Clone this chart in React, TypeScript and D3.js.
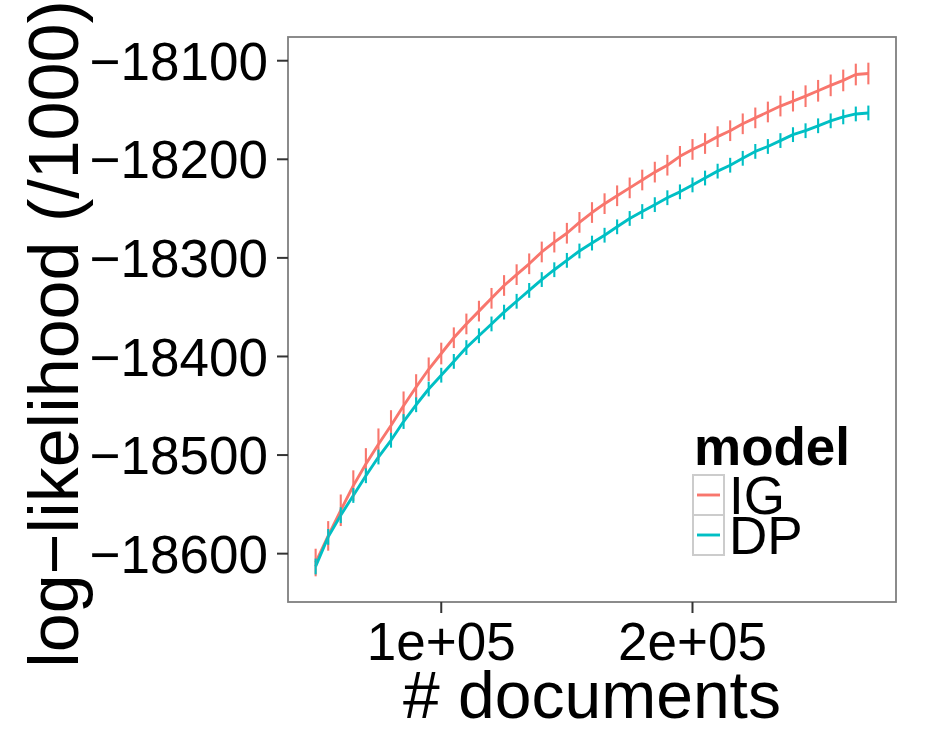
import React from "react";
import * as d3 from "d3";

const docs = [
  50000, 55000, 60000, 65000, 70000, 75000, 80000, 85000, 90000, 95000,
  100000, 105000, 110000, 115000, 120000, 125000, 130000, 135000, 140000, 145000,
  150000, 155000, 160000, 165000, 170000, 175000, 180000, 185000, 190000, 195000,
  200000, 205000, 210000, 215000, 220000, 225000, 230000, 235000, 240000, 245000,
  250000, 255000, 260000, 265000, 270000,
];

const igLogLik = [
  -18609, -18582, -18556, -18531, -18509, -18489, -18470, -18450, -18431, -18413,
  -18397, -18381, -18367, -18354, -18341, -18328, -18317, -18306, -18294, -18284,
  -18275, -18264, -18254, -18245, -18237, -18229, -18221, -18213, -18206, -18197,
  -18190, -18184, -18177, -18171, -18164, -18158, -18152, -18146, -18141, -18136,
  -18130.5, -18125, -18120, -18114, -18113,
];
const igErr = [
  14, 15, 16, 15.5, 16, 16, 15.5, 14.5, 13, 12,
  11, 10.5, 10.5, 10.5, 10.5, 10.5, 10.5, 10.5, 10.5, 10.5,
  10.5, 10.5, 10.5, 10.5, 10.5, 10.5, 10.5, 10.5, 10.5, 10.5,
  10.5, 10.5, 10.5, 10.5, 10.5, 10.5, 10.5, 10.5, 10.5, 11,
  11, 11, 11, 11, 11,
];

const dpLogLik = [
  -18613, -18583, -18561, -18541, -18521, -18502, -18485, -18466, -18449, -18433,
  -18419, -18405, -18391, -18379, -18367, -18355, -18344, -18333, -18322, -18312,
  -18302.5, -18293, -18285, -18277, -18268.5, -18260, -18253, -18246, -18239, -18233,
  -18226, -18219, -18212, -18206, -18199, -18192, -18187, -18181, -18175, -18171,
  -18166, -18161, -18157, -18154, -18153,
];
const dpErr = [
  8, 8, 8, 7.5, 7.5, 7.5, 7.5, 7.5, 7.5, 7.5,
  7.5, 7.5, 7.5, 7.5, 7.5, 7.5, 7.5, 7.5, 7.5, 7.5,
  7.5, 7.5, 7.5, 7.5, 7.5, 7.5, 7.5, 7.5, 7.5, 7.5,
  7.5, 7.5, 7.5, 7.5, 7.5, 7.5, 7.5, 7.5, 7.5, 7.5,
  7.5, 7.5, 7.5, 7.5, 7.5,
];

const models = ["IG", "DP"];
const modelColors = ["#F8766D", "#00BFC4"];
const xTicks = [100000, 200000];
const xTickLabels = ["1e+05", "2e+05"];
const yTicks = [-18600, -18500, -18400, -18300, -18200, -18100];
const xTitle = "# documents";
const yTitle = "log\u2212likelihood (/1000)";
const legendTitle = "model";

const W = 934;
const H = 747;
const panel = { left: 288, right: 896, top: 37, bottom: 602 };
const FONT = "'Liberation Sans', Arial, Helvetica, sans-serif";

export default function App() {
  const series = [
    { name: models[0], color: modelColors[0], y: igLogLik, err: igErr },
    { name: models[1], color: modelColors[1], y: dpLogLik, err: dpErr },
  ];

  const xMin = d3.min(docs)!;
  const xMax = d3.max(docs)!;
  const xPad = (xMax - xMin) * 0.05;
  const x = d3
    .scaleLinear()
    .domain([xMin - xPad, xMax + xPad])
    .range([panel.left, panel.right]);

  const allLo = series.flatMap((s) => s.y.map((v, i) => v - s.err[i]));
  const allHi = series.flatMap((s) => s.y.map((v, i) => v + s.err[i]));
  const yMin = d3.min(allLo)!;
  const yMax = d3.max(allHi)!;
  const yPad = (yMax - yMin) * 0.05;
  const y = d3
    .scaleLinear()
    .domain([yMin - yPad, yMax + yPad])
    .range([panel.bottom, panel.top]);

  const line = d3
    .line<number>()
    .x((_, i) => x(docs[i]))
    .y((v) => y(v));

  const fmtY = (v: number) => (v < 0 ? "\u2212" + Math.abs(v) : String(v));

  return (
    <svg
      width={W}
      height={H}
      style={{ position: "absolute", left: 0, top: 0, background: "#fff" }}
      fontFamily={FONT}
    >
      <rect x={0} y={0} width={W} height={H} fill="#fff" />
      {series.map((s) => (
        <path
          key={"l" + s.name}
          d={line(s.y) || ""}
          fill="none"
          stroke={s.color}
          strokeWidth={2.9}
          strokeLinejoin="round"
        />
      ))}
      {series.map((s) => (
        <g key={"e" + s.name} stroke={s.color} strokeWidth={2.1}>
          {s.y.map((v, i) => (
            <line
              key={i}
              x1={x(docs[i])}
              x2={x(docs[i])}
              y1={y(v - s.err[i])}
              y2={y(v + s.err[i])}
            />
          ))}
        </g>
      ))}
      <rect
        x={panel.left}
        y={panel.top}
        width={panel.right - panel.left}
        height={panel.bottom - panel.top}
        fill="none"
        stroke="#7f7f7f"
        strokeWidth={1.8}
      />
      {yTicks.map((t) => (
        <g key={"yt" + t}>
          <line
            x1={panel.left - 11}
            x2={panel.left}
            y1={y(t)}
            y2={y(t)}
            stroke="#333"
            strokeWidth={2}
          />
          <text
            x={panel.left - 20}
            y={y(t)}
            dy="0.36em"
            textAnchor="end"
            fontSize={53}
            fill="#000"
          >
            {fmtY(t)}
          </text>
        </g>
      ))}
      {xTicks.map((t, i) => (
        <g key={"xt" + t}>
          <line
            x1={x(t)}
            x2={x(t)}
            y1={panel.bottom}
            y2={panel.bottom + 11}
            stroke="#333"
            strokeWidth={2}
          />
          <text x={x(t)} y={660} textAnchor="middle" fontSize={53} fill="#000">
            {xTickLabels[i]}
          </text>
        </g>
      ))}
      <text
        x={(panel.left + panel.right) / 2}
        y={718}
        textAnchor="middle"
        fontSize={66}
        fill="#000"
      >
        {xTitle}
      </text>
      <text
        transform={`translate(78, 334) rotate(-90)`}
        textAnchor="middle"
        fontSize={70}
        fill="#000"
      >
        {yTitle}
      </text>
      <text x={694} y={465} fontSize={53} fontWeight="bold" fill="#000">
        {legendTitle}
      </text>
      {series.map((s, i) => {
        const ky = 475 + i * 40;
        return (
          <g key={"lg" + s.name}>
            <rect
              x={693}
              y={ky}
              width={31}
              height={40}
              fill="#fff"
              stroke="#cccccc"
              strokeWidth={2}
            />
            <line
              x1={697}
              x2={720}
              y1={ky + 20}
              y2={ky + 20}
              stroke={s.color}
              strokeWidth={2.9}
            />
            <text x={729} y={ky + 39} fontSize={53} fill="#000">
              {s.name}
            </text>
          </g>
        );
      })}
    </svg>
  );
}
